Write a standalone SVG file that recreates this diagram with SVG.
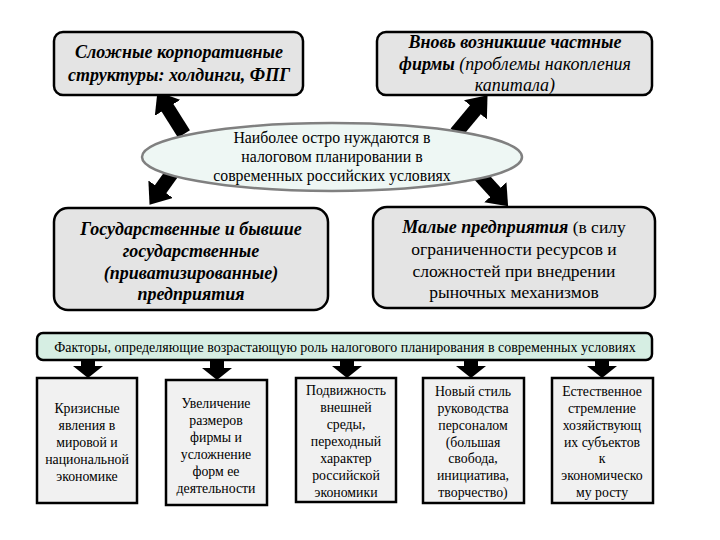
<svg xmlns="http://www.w3.org/2000/svg" width="720" height="540" viewBox="0 0 720 540">
<defs>
<style>
.box{fill:#e4e4e4;stroke:#000;stroke-width:2.5}
.fbox{fill:#f1f1f1;stroke:#000;stroke-width:2.5}
.bar{fill:#d6eee3;stroke:#000;stroke-width:2.5}
.ell{fill:#eef7f4;stroke:#808080;stroke-width:2.5}
text{font-family:'Liberation Serif','Times New Roman','DejaVu Serif',serif;fill:#000;text-anchor:middle}
.bi{font-weight:bold;font-style:italic;font-size:18px}
.it{font-style:italic;font-weight:normal}
.rg{font-size:17.5px}
.el{font-size:15.8px}
.sm{font-size:13.8px}
.fb{font-size:14px}
.big{stroke:#000;stroke-width:14;fill:none}
.small{stroke:#000;stroke-width:14;fill:none}
</style>
<marker id="bigHead" markerUnits="userSpaceOnUse" markerWidth="20" markerHeight="30" refX="1" refY="15" orient="auto">
<path d="M0,0 L19,15 L0,30 Z" fill="#000"/>
</marker>
<marker id="smallHead" markerUnits="userSpaceOnUse" markerWidth="12" markerHeight="30" refX="1" refY="15" orient="auto">
<path d="M0,0 L12,15 L0,30 Z" fill="#000"/>
</marker>
</defs>
<rect width="720" height="540" fill="#fff"/>

<g id="connectors">
<line class="big" x1="184" y1="134" x2="167" y2="107" marker-end="url(#bigHead)"/>
<line class="big" x1="175" y1="169" x2="160" y2="190" marker-end="url(#bigHead)"/>
<line class="big" x1="456" y1="133" x2="476" y2="109" marker-end="url(#bigHead)"/>
<line class="big" x1="476" y1="171" x2="496" y2="193" marker-end="url(#bigHead)"/>
<line class="small" x1="88" y1="360" x2="88" y2="367" marker-end="url(#smallHead)"/>
<line class="small" x1="217" y1="360" x2="217" y2="369" marker-end="url(#smallHead)"/>
<line class="small" x1="347" y1="360" x2="347" y2="367" marker-end="url(#smallHead)"/>
<line class="small" x1="471" y1="360" x2="471" y2="367" marker-end="url(#smallHead)"/>
<line class="small" x1="602" y1="360" x2="602" y2="367" marker-end="url(#smallHead)"/>
</g>

<g id="node-corporate">
<rect class="box" x="54" y="32" width="249" height="63" rx="9"/>
<text class="bi" x="179" y="58">Сложные корпоративные</text>
<text class="bi" x="179" y="81">структуры: холдинги, ФПГ</text>
</g>

<g id="node-newfirms">
<rect class="box" x="377" y="32" width="275" height="63" rx="9"/>
<text class="bi" x="515" y="48">Вновь возникшие частные</text>
<text class="bi" x="515" y="70">фирмы<tspan class="it"> (проблемы накопления</tspan></text>
<text class="bi" x="515" y="91"><tspan class="it">капитала)</tspan></text>
</g>

<g id="node-center">
<ellipse class="ell" cx="332" cy="157" rx="190" ry="34"/>
<text class="el" x="332" y="143">Наиболее остро нуждаются в</text>
<text class="el" x="332" y="162">налоговом планировании в</text>
<text class="el" x="332" y="181">современных российских условиях</text>
</g>

<g id="node-state">
<rect class="box" x="54" y="208" width="274" height="102" rx="14"/>
<text class="bi" x="191" y="235">Государственные и бывшие</text>
<text class="bi" x="191" y="257">государственные</text>
<text class="bi" x="191" y="279">(приватизированные)</text>
<text class="bi" x="191" y="300">предприятия</text>
</g>

<g id="node-small">
<rect class="box" x="373" y="207" width="282" height="101" rx="14"/>
<text class="rg" x="514" y="233"><tspan class="bi">Малые предприятия</tspan> (в силу</text>
<text class="rg" x="514" y="255">ограниченности ресурсов и</text>
<text class="rg" x="514" y="277">сложностей при внедрении</text>
<text class="rg" x="514" y="298">рыночных механизмов</text>
</g>

<g id="node-factors">
<rect class="bar" x="37" y="333" width="615" height="27" rx="6"/>
<text class="fb" x="345" y="352">Факторы, определяющие возрастающую роль налогового планирования в современных условиях</text>
</g>

<g id="node-f1">
<rect class="fbox" x="37" y="378" width="100" height="125"/>
<text class="sm" x="87" y="413">Кризисные</text>
<text class="sm" x="87" y="430">явления в</text>
<text class="sm" x="87" y="447">мировой и</text>
<text class="sm" x="87" y="464">национальной</text>
<text class="sm" x="87" y="481">экономике</text>
</g>

<g id="node-f2">
<rect class="fbox" x="166" y="380" width="101" height="125"/>
<text class="sm" x="216" y="408">Увеличение</text>
<text class="sm" x="216" y="425">размеров</text>
<text class="sm" x="216" y="442">фирмы и</text>
<text class="sm" x="216" y="459">усложнение</text>
<text class="sm" x="216" y="476">форм ее</text>
<text class="sm" x="216" y="493">деятельности</text>
</g>

<g id="node-f3">
<rect class="fbox" x="296" y="378" width="100" height="124"/>
<text class="sm" x="346" y="395">Подвижность</text>
<text class="sm" x="346" y="412">внешней</text>
<text class="sm" x="346" y="429">среды,</text>
<text class="sm" x="346" y="446">переходный</text>
<text class="sm" x="346" y="463">характер</text>
<text class="sm" x="346" y="480">российской</text>
<text class="sm" x="346" y="497">экономики</text>
</g>

<g id="node-f4">
<rect class="fbox" x="423" y="378" width="101" height="125"/>
<text class="sm" x="473" y="396">Новый стиль</text>
<text class="sm" x="473" y="413">руководства</text>
<text class="sm" x="473" y="430">персоналом</text>
<text class="sm" x="473" y="447">(большая</text>
<text class="sm" x="473" y="463">свобода,</text>
<text class="sm" x="473" y="480">инициатива,</text>
<text class="sm" x="473" y="497">творчество)</text>
</g>

<g id="node-f5">
<rect class="fbox" x="552" y="378" width="101" height="125"/>
<text class="sm" x="602" y="396">Естественное</text>
<text class="sm" x="602" y="413">стремление</text>
<text class="sm" x="602" y="430">хозяйствующ</text>
<text class="sm" x="602" y="447">их субъектов</text>
<text class="sm" x="602" y="463">к</text>
<text class="sm" x="602" y="480">экономическо</text>
<text class="sm" x="602" y="497">му росту</text>
</g>
</svg>
